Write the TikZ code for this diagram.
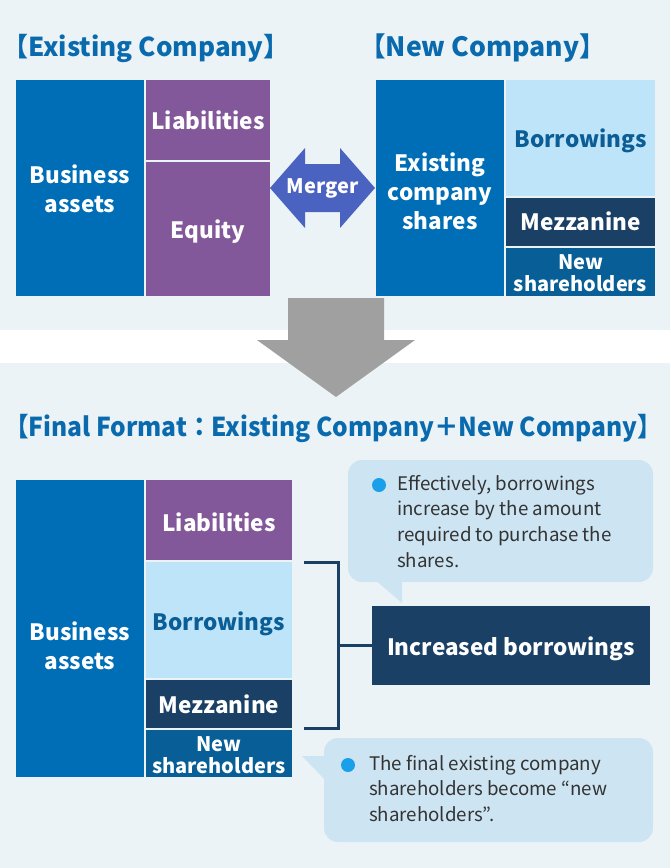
\documentclass[tikz,border=0pt]{standalone}
\usepackage{fontspec}
\usepackage{graphicx}
\setmainfont{Noto Sans CJK JP}
\definecolor{bgc}{HTML}{EBF3F7}
\definecolor{cblue}{HTML}{006EB6}
\definecolor{cpurple}{HTML}{83589A}
\definecolor{clight}{HTML}{BEE4FA}
\definecolor{cltext}{HTML}{0B5E95}
\definecolor{cnavy}{HTML}{1B4066}
\definecolor{cns}{HTML}{085E96}
\definecolor{cmerge}{HTML}{4A62C0}
\definecolor{cgray}{HTML}{A0A0A0}
\definecolor{ccall}{HTML}{CDE4F2}
\definecolor{cbullet}{HTML}{1AA0E8}
\definecolor{ctitle}{HTML}{0A6AAE}
\definecolor{ctext}{HTML}{333333}
\newcommand{\lowerby}[2]{\raisebox{-#1}[\height][\depth]{#2}}
\tikzset{
  blk/.style={inner sep=0pt, outer sep=0pt, text=white, align=center,
    font=\bfseries\fontsize{22.5}{29}\selectfont},
  nsblk/.style={blk, fill=cns, font=\bfseries\fontsize{20}{21}\selectfont},
  ttl/.style={inner sep=0pt, anchor=base west, text=ctitle,
    font=\bfseries\fontsize{26}{30}\selectfont},
  calltext/.style={inner sep=0pt, anchor=base west, align=left, text=ctext,
    font=\fontsize{18.7}{25.7}\selectfont},
  bullet/.style={circle, fill=cbullet, inner sep=0pt, minimum size=14pt},
  brk/.style={draw=cnavy, line width=3pt}
}
\begin{document}
\begin{tikzpicture}[x=1pt,y=-1pt]
\useasboundingbox (0,0) rectangle (670,868);
\fill[bgc] (0,0) rectangle (670,330);
\fill[white] (0,330) rectangle (670,363);
\fill[bgc] (0,363) rectangle (670,868);

% titles
\node[ttl] (t1) at (2,56) {【Existing Company】};
\node[ttl] (t2) at (359,56) {\fontsize{26.6}{30}\selectfont【New Company】};
\node[ttl] (t3) at (4,436) {\resizebox{658pt}{\height}{【Final Format：Existing Company＋New Company】}};

% existing company
\node[blk, fill=cblue, minimum width=128pt, minimum height=216pt] (ba1) at (80,188) {\lowerby{4pt}{\begin{tabular}{@{}c@{}}Business\\assets\end{tabular}}};
\node[blk, fill=cpurple, minimum width=124pt, minimum height=80pt] (li1) at (208,120) {Liabilities};
\node[blk, fill=cpurple, minimum width=124pt, minimum height=134pt] (eq1) at (208,229) {\lowerby{3pt}{Equity}};

% merger arrow
\fill[cmerge] (270,188) -- (305,148) -- (305,164) -- (340,164) -- (340,148) -- (375,188)
  -- (340,228) -- (340,212) -- (305,212) -- (305,228) -- cycle;
\node[blk, font=\bfseries\fontsize{20}{24}\selectfont] (mg) at (322.5,188) {Merger};

% new company
\node[blk, fill=cblue, minimum width=128pt, minimum height=216pt] (ecs) at (440,188) {\lowerby{7pt}{\begin{tabular}{@{}c@{}}Existing\\company\\shares\end{tabular}}};
\node[blk, fill=clight, text=cltext, minimum width=149pt, minimum height=116pt] (bo1) at (580.5,138) {\lowerby{3pt}{Borrowings}};
\node[blk, fill=cnavy, minimum width=149pt, minimum height=48pt] (mz1) at (580.5,222) {\raisebox{1pt}[\height][\depth]{Mezzanine}};
\node[nsblk, minimum width=149pt, minimum height=48pt] (ns1) at (580.5,272) {\lowerby{4pt}{\begin{tabular}{@{}c@{}}New\\shareholders\end{tabular}}};

% big arrow
\fill[cgray] (288,298) -- (384,298) -- (384,340) -- (415,340) -- (336,397) -- (257,340) -- (288,340) -- cycle;

% final format
\node[blk, fill=cblue, minimum width=128pt, minimum height=297pt] (ba2) at (80,628.5) {\lowerby{20.5pt}{\begin{tabular}{@{}c@{}}Business\\assets\end{tabular}}};
\node[blk, fill=cpurple, minimum width=146pt, minimum height=80pt] (li2) at (219,520) {\lowerby{2pt}{Liabilities}};
\node[blk, fill=clight, text=cltext, minimum width=146pt, minimum height=116pt] (bo2) at (219,620) {\lowerby{4pt}{Borrowings}};
\node[blk, fill=cnavy, minimum width=146pt, minimum height=48pt] (mz2) at (219,704) {Mezzanine};
\node[nsblk, minimum width=146pt, minimum height=47pt] (ns2) at (219,753.5) {\lowerby{5pt}{\begin{tabular}{@{}c@{}}New\\shareholders\end{tabular}}};

% increased borrowings
\node[blk, fill=cnavy, minimum width=278pt, minimum height=79pt] (ib) at (511,645.5) {\lowerby{3pt}{Increased borrowings}};

% bracket
\coordinate (bk1) at (304,562);
\coordinate (bk2) at (338,562);
\coordinate (bk3) at (338,728);
\coordinate (bk4) at (304,728);
\coordinate (bkm) at (338,645.5);
\draw[brk] (bk1) -- (bk2) -- (bk3) -- (bk4);
\draw[brk] (bkm) -- (ib.west);

% callout 1
\fill[ccall, rounded corners=14pt] (348,460) rectangle (653,582);
\fill[ccall] (373,578) -- (402,578) -- (402,603) -- cycle;
\node[bullet] (b1) at (379,485) {};
\node[calltext] (c1) at (397,567.1) {Effectively, borrowings\\increase by the amount\\required to purchase the\\shares.};

% callout 2
\fill[ccall, rounded corners=14pt] (324,738) rectangle (653,842);
\fill[ccall] (302,756) -- (330,756) -- (330,785) -- cycle;
\node[bullet] (b2) at (348,765) {};
\node[calltext] (c2) at (369,821.4) {The final existing company\\shareholders become “new\\shareholders”.};
\end{tikzpicture}
\end{document}
